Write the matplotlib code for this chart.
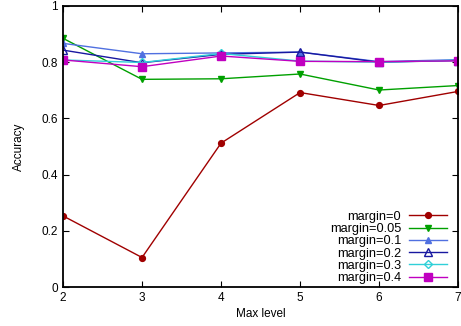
import matplotlib
matplotlib.use("Agg")
import matplotlib.pyplot as plt

plt.rcParams['font.family'] = ['Liberation Sans', 'DejaVu Sans']

levels = [2, 3, 4, 5, 6, 7]
labels = ["margin=0", "margin=0.05", "margin=0.1", "margin=0.2", "margin=0.3", "margin=0.4"]
m0 = [0.253, 0.105, 0.512, 0.692, 0.646, 0.696]
m005 = [0.885, 0.739, 0.741, 0.758, 0.701, 0.717]
m01 = [0.867, 0.830, 0.833, 0.836, 0.802, 0.809]
m02 = [0.843, 0.798, 0.828, 0.836, 0.800, 0.806]
m03 = [0.808, 0.799, 0.831, 0.804, 0.800, 0.807]
m04 = [0.808, 0.784, 0.822, 0.803, 0.802, 0.805]

series = [m0, m005, m01, m02, m03, m04]
colors = ['#a00000', '#00a000', '#5070e0', '#1818a0', '#30d0d8', '#c000c0']
markers = ['o', 'v', '^', '^', 'D', 's']
msizes = [4.2, 4.2, 4.2, 5.2, 3.6, 5.5]
filled = [True, True, True, False, False, True]

fig = plt.figure(figsize=(4.61, 3.26), dpi=100)
ax = fig.add_axes([0.1367, 0.1196, 0.857, 0.862])

for vals, lab, c, mk, ms, f in zip(series, labels, colors, markers, msizes, filled):
    ax.plot(levels, vals, color=c, marker=mk, markersize=ms, linewidth=1.0,
            markerfacecolor=c if f else 'none', markeredgecolor=c,
            markeredgewidth=1.0, label=lab)

ax.set_xlim(2, 7)
ax.set_ylim(0, 1)
ax.set_xticks(levels)
ax.set_yticks([0, 0.2, 0.4, 0.6, 0.8, 1])
ax.set_yticklabels(['0', '0.2', '0.4', '0.6', '0.8', '1'])
ax.tick_params(direction='in', top=True, right=True, labelsize=8.5, length=4, width=0.8)
for s in ax.spines.values():
    s.set_linewidth(1.3)
ax.set_xlabel("Max level", fontsize=8.5, labelpad=3)
ax.set_ylabel("Accuracy", fontsize=8.5, labelpad=12)

leg = ax.legend(loc='lower right', frameon=False, markerfirst=False, fontsize=9.2,
                handlelength=3.0, handletextpad=0.6, labelspacing=0.02,
                bbox_to_anchor=(0.985, -0.008), borderaxespad=0.0)

fig.savefig("out.png", dpi=100)
